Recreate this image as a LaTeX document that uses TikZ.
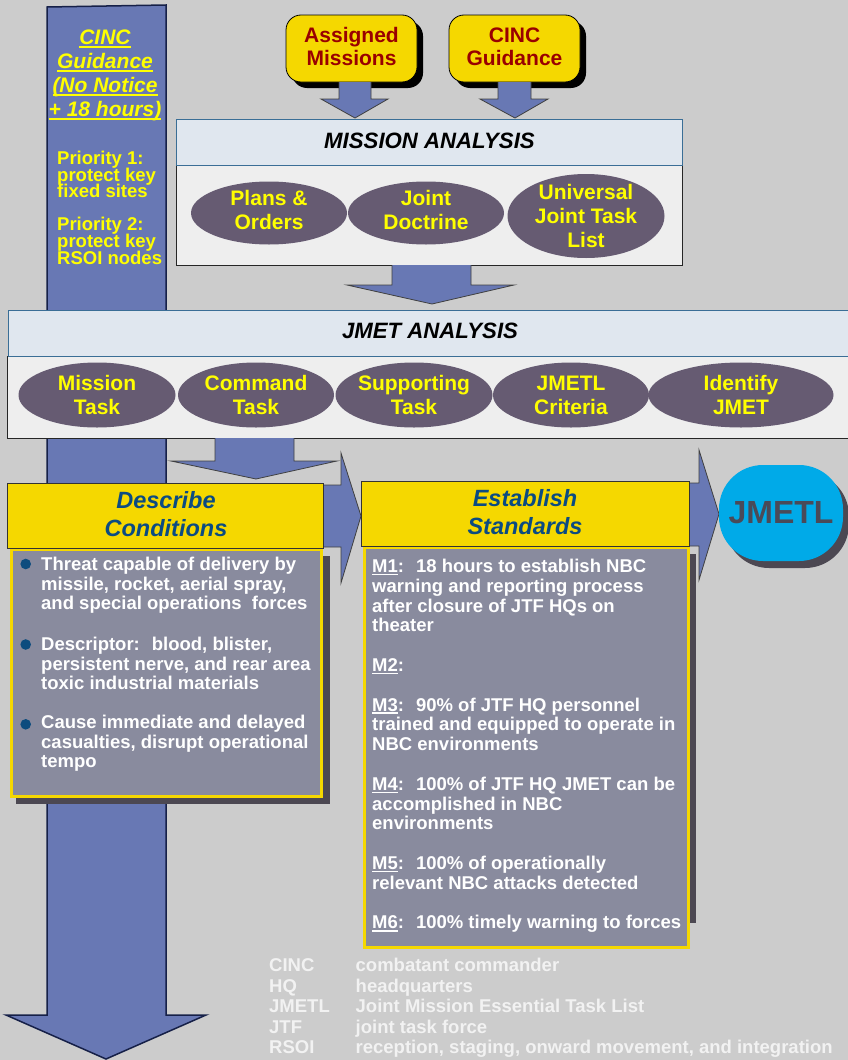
\documentclass[tikz,border=0pt]{standalone}
\usepackage{fontspec}
\setmainfont{Liberation Sans}
\usetikzlibrary{shapes.geometric,shadows}
\definecolor{bg}{RGB}{204,204,204}
\definecolor{arrowblue}{RGB}{104,120,180}
\definecolor{navy}{RGB}{22,32,72}
\definecolor{ylw}{RGB}{245,216,0}
\definecolor{dred}{RGB}{153,0,0}
\definecolor{ellfill}{RGB}{102,91,114}
\definecolor{elltext}{RGB}{255,255,0}
\definecolor{hdrfill}{RGB}{224,231,239}
\definecolor{hdrline}{RGB}{58,110,150}
\definecolor{panel}{RGB}{238,238,238}
\definecolor{bodyfill}{RGB}{137,139,158}
\definecolor{shadowc}{RGB}{76,72,82}
\definecolor{titleblue}{RGB}{11,75,130}
\definecolor{bulletc}{RGB}{13,76,126}
\definecolor{jcyan}{RGB}{0,170,232}
\definecolor{jtext}{RGB}{74,74,88}
\definecolor{legendc}{RGB}{242,242,242}
\newbox\myulbox
\newcommand\myul[1]{\setbox\myulbox\hbox{#1}\rlap{\rule[-3pt]{\wd\myulbox}{1.7pt}}\box\myulbox}
\newcommand\tightlines{\lineskiplimit=-100pt\relax}
\begin{document}
\begin{tikzpicture}[x=1pt,y=-1pt,
  bigarrow/.style={fill=arrowblue, draw=navy, line width=1.5pt, line join=miter},
  arrowfill/.style={fill=arrowblue},
  arrowline/.style={draw=black!75, line width=0.8pt, line join=miter},
  ellnode/.style={ellipse, fill=ellfill, text=elltext, font=\fontsize{21}{24}\selectfont\bfseries, align=center, inner xsep=-8pt, inner ysep=-16pt},
  topbox/.style={rectangle, rounded corners=15pt, fill=ylw, draw=black, line width=0.8pt, minimum width=131pt, minimum height=67pt, text=dred, text depth=4pt, font=\fontsize{21}{23.3}\selectfont\bfseries, align=center, drop shadow={shadow xshift=6pt, shadow yshift=-6pt, fill=black, opacity=1}},
  hdrband/.style={rectangle, fill=hdrfill, draw=hdrline, line width=1pt, inner sep=0pt, anchor=north west},
  panelbox/.style={rectangle, fill=panel, draw=black!85, line width=1pt, inner sep=0pt, anchor=north west},
  ylwhdr/.style={rectangle, fill=ylw, draw=black!80, line width=0.8pt, inner sep=0pt, anchor=north west},
  bodybox/.style={rectangle, fill=bodyfill, draw=ylw, line width=3pt, inner sep=0pt, anchor=north west},
  bodytext/.style={text=white, font=\fontsize{18.5}{19.7}\selectfont\bfseries, align=left, inner sep=0pt, anchor=north west},
  antitle/.style={text=black, font=\fontsize{22.2}{24}\selectfont\bfseries\itshape, inner sep=0pt},
  boxtitle/.style={text=titleblue, font=\fontsize{23.5}{28}\selectfont\bfseries\itshape, align=center, inner sep=0pt},
  shadowfill/.style={fill=shadowc}
]
\useasboundingbox (0,0) rectangle (848,1060);
\fill[bg] (0,0) rectangle (848,1060);

% big left arrow
\draw[bigarrow] (47,7) -- (166,5) -- (166,1015) -- (206,1015) -- (106,1059) -- (6,1015) -- (47,1015) -- cycle;
\node[text=elltext, font=\fontsize{21}{24}\selectfont\bfseries\itshape, align=center, inner sep=0pt] (cinccol) at (105,75.7)
  {\myul{CINC}\\\myul{Guidance}\\\myul{(No Notice}\\\myul{+ 18 hours)}};
\node[text=elltext, font=\fontsize{18.5}{16.6}\selectfont\bfseries\tightlines, align=left, inner sep=0pt, anchor=north west] (prio) at (57,150.8)
  {Priority 1:\\protect key\\fixed sites\\[16.6pt]Priority 2:\\protect key\\RSOI nodes};

% top boxes
\node[topbox] (assigned) at (351.5,48.5) {Assigned\\Missions};
\node[topbox] (cincg) at (514.5,48.5) {CINC\\Guidance};
\fill[arrowfill] (339,82) -- (339,99) -- (321,99) -- (355,118) -- (388,99) -- (371,99) -- (371,82) -- cycle;
\draw[arrowline] (339,82) -- (339,99) -- (321,99) -- (355,118) -- (388,99) -- (371,99) -- (371,82);
\fill[arrowfill] (498,82) -- (498,99) -- (480,99) -- (515,118) -- (548,99) -- (531,99) -- (531,82) -- cycle;
\draw[arrowline] (498,82) -- (498,99) -- (480,99) -- (515,118) -- (548,99) -- (531,99) -- (531,82);

% mission analysis
\node[panelbox, minimum width=506pt, minimum height=100pt] (mabody) at (176,165) {};
\node[hdrband, minimum width=506pt, minimum height=46pt] (mahdr) at (176,119) {};
\node[antitle] (matitle) at (429.5,141) {MISSION ANALYSIS};
\node[ellnode, minimum width=156pt, minimum height=63pt, text depth=7pt] (plans) at (269,213) {Plans \&\\Orders};
\node[ellnode, minimum width=156pt, minimum height=63pt, text depth=7pt] (doctrine) at (426,213) {Joint\\Doctrine};
\node[ellnode, minimum width=157pt, minimum height=84pt] (ujtl) at (586,216) {Universal\\Joint Task\\List};
\fill[arrowfill] (392,265) -- (392,285) -- (347,285) -- (432,304) -- (514,285) -- (471,285) -- (471,265) -- cycle;
\draw[arrowline] (392,265) -- (392,285) -- (347,285) -- (432,304) -- (514,285) -- (471,285) -- (471,265);

% JMET analysis
\node[panelbox, minimum width=846pt, minimum height=82pt] (jbody) at (7,356) {};
\node[hdrband, minimum width=845pt, minimum height=46pt] (jhdr) at (8,310) {};
\node[antitle] (jtitle) at (430,330.5) {JMET ANALYSIS};
\node[ellnode, minimum width=157pt, minimum height=65pt] (mtask) at (97,395) {Mission\\Task};
\node[ellnode, minimum width=156pt, minimum height=65pt] (ctask) at (256,395) {Command\\Task};
\node[ellnode, minimum width=157pt, minimum height=65pt] (stask) at (414,395) {Supporting\\Task};
\node[ellnode, minimum width=156pt, minimum height=65pt] (crit) at (571,395) {JMETL\\Criteria};
\node[ellnode, minimum width=185pt, minimum height=65pt] (ident) at (741,395) {Identify\\JMET};
\fill[arrowfill] (215,438) -- (215,461) -- (171,461) -- (256,479) -- (337,461) -- (294,461) -- (294,438) -- cycle;
\draw[arrowline] (215,438) -- (215,461) -- (171,461) -- (256,479) -- (337,461) -- (294,461) -- (294,438);

% right arrows
\draw[arrowfill, arrowline] (310,485) -- (341,485) -- (341,453) -- (361,516) -- (341,583) -- (341,547) -- (310,547) -- cycle;
\draw[arrowfill, arrowline] (675,483) -- (699,483) -- (699,450) -- (719,514) -- (699,580) -- (699,546) -- (675,546) -- cycle;

% describe conditions
\fill[shadowfill] (16,556) rectangle (330,804);
\node[bodybox, minimum width=310pt, minimum height=247pt] (descbody) at (10,548) {};
\node[ylwhdr, minimum width=316pt, minimum height=65pt] (deschdr) at (7,483) {};
\node[boxtitle] (desctitle) at (166,514) {Describe\\Conditions};
\fill[bulletc] (25.7,564) circle (5.3);
\fill[bulletc] (25.7,644.5) circle (5.3);
\fill[bulletc] (25.7,724.3) circle (5.3);
\node[bodytext] (b1) at (41,556.7) {Threat capable of delivery by\\missile, rocket, aerial spray,\\and special operations~ forces};
\node[bodytext] (b2) at (41,636.7) {Descriptor:~ blood, blister,\\persistent nerve, and rear area\\toxic industrial materials};
\node[bodytext] (b3) at (41,714.7) {Cause immediate and delayed\\casualties, disrupt operational\\tempo};

% establish standards
\fill[shadowfill] (370,554) rectangle (696,923);
\node[bodybox, minimum width=324pt, minimum height=400pt] (estbody) at (363,546) {};
\node[ylwhdr, minimum width=328pt, minimum height=65pt] (esthdr) at (361,481) {};
\node[boxtitle] (esttitle) at (525,512) {Establish\\Standards};
\node[bodytext, font=\fontsize{18.5}{19.8}\selectfont\bfseries] (mtext) at (372,558.8)
  {\myul{M1}:~ 18 hours to establish NBC\\warning and reporting process\\after closure of JTF HQs on\\theater\\[19.8pt]%
   \myul{M2}:\\[19.8pt]%
   \myul{M3}:~ 90\% of JTF HQ personnel\\trained and equipped to operate in\\NBC environments\\[19.8pt]%
   \myul{M4}:~ 100\% of JTF HQ JMET can be\\accomplished in NBC\\environments\\[19.8pt]%
   \myul{M5}:~ 100\% of operationally\\relevant NBC attacks detected\\[19.8pt]%
   \myul{M6}:~ 100\% timely warning to forces};

% JMETL
\node[rectangle, rounded corners=44pt, fill=jcyan, minimum width=124pt, minimum height=96pt, inner sep=0pt,
  text=jtext, font=\fontsize{32}{36}\selectfont\bfseries,
  drop shadow={shadow xshift=6pt, shadow yshift=-7pt, fill=shadowc, opacity=1}] (jmetl) at (781,513) {JMETL};

% legend
\node[anchor=north west, inner sep=0pt, text=legendc, font=\fontsize{18.5}{20.4}\selectfont\bfseries] (legend) at (269,957.4)
  {\begin{tabular}{@{}p{86.5pt}@{}l@{}}
   CINC & combatant commander\\
   HQ & headquarters\\
   JMETL & Joint Mission Essential Task List\\
   JTF & joint task force\\
   RSOI & reception, staging, onward movement, and integration
   \end{tabular}};
\end{tikzpicture}
\end{document}
